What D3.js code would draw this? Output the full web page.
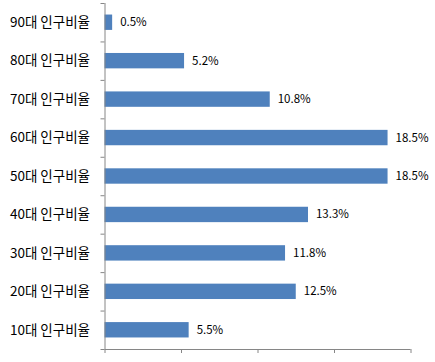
<!DOCTYPE html>
<html>
<head>
<meta charset="utf-8">
<script src="https://cdn.jsdelivr.net/npm/d3@7"></script>
<style>
body { margin: 0; background: #fff; }
text { font-family: "Noto Sans CJK KR", "Noto Sans", sans-serif; fill: #000; }
</style>
</head>
<body>
<script>
const categories = ["90대 인구비율", "80대 인구비율", "70대 인구비율", "60대 인구비율", "50대 인구비율",
                    "40대 인구비율", "30대 인구비율", "20대 인구비율", "10대 인구비율"];
const values = [0.5, 5.2, 10.8, 18.5, 18.5, 13.3, 11.8, 12.5, 5.5];
const xTicks = [0, 5, 10, 15, 20];

const w = 435;
const h = 362;
const mLeft = 104.5, mRight = 410.5, mTop = 3, mBottom = 349;

const svg = d3.select("body")
    .append("svg")
    .attr("width", w)
    .attr("height", h);

const x = d3.scaleLinear().domain([0, 20]).range([mLeft, mRight]);
const y = d3.scaleBand().domain(categories).range([mTop, mBottom]).paddingInner(0.6).paddingOuter(0.3);

// bars
svg.selectAll("rect.bar")
    .data(values)
    .enter()
    .append("rect")
    .attr("class", "bar")
    .attr("x", x(0))
    .attr("y", (d, i) => y(categories[i]))
    .attr("width", d => x(d) - x(0))
    .attr("height", y.bandwidth())
    .attr("fill", "#4f81bd");

// value labels
svg.selectAll("text.val")
    .data(values)
    .enter()
    .append("text")
    .attr("class", "val")
    .attr("x", d => x(d) + 8)
    .attr("y", (d, i) => y(categories[i]) + y.bandwidth() / 2)
    .attr("dy", "0.35em")
    .style("font-size", "11.5px")
    .text(d => d.toFixed(1) + "%");

// bottom axis
const xAxis = svg.append("g")
    .attr("transform", `translate(0,${mBottom})`)
    .call(d3.axisBottom(x).tickValues(xTicks).tickSize(4).tickFormat(""));
xAxis.select(".domain").attr("stroke", "#868686").attr("d", `M${mLeft},0.5H${mRight}`);
xAxis.selectAll(".tick line").attr("stroke", "#868686");

// left axis with ticks between categories
const bounds = d3.range(categories.length + 1).map(i => mTop + i * (mBottom - mTop) / categories.length);
const yLine = d3.scaleLinear().domain([mTop, mBottom]).range([mTop, mBottom]);
const yAxis = svg.append("g")
    .attr("transform", `translate(${mLeft},0)`)
    .call(d3.axisLeft(yLine).tickValues(bounds).tickSize(4).tickFormat(""));
yAxis.select(".domain").attr("stroke", "#868686").attr("d", `M0.5,${mTop}V${mBottom}`);
yAxis.selectAll(".tick line").attr("stroke", "#868686");

// category labels
svg.selectAll("text.cat")
    .data(categories)
    .enter()
    .append("text")
    .attr("class", "cat")
    .attr("x", 90)
    .attr("y", d => y(d) + y.bandwidth() / 2)
    .attr("dy", "0.35em")
    .attr("text-anchor", "end")
    .style("font-size", "13.5px")
    .text(d => d);
</script>
</body>
</html>
